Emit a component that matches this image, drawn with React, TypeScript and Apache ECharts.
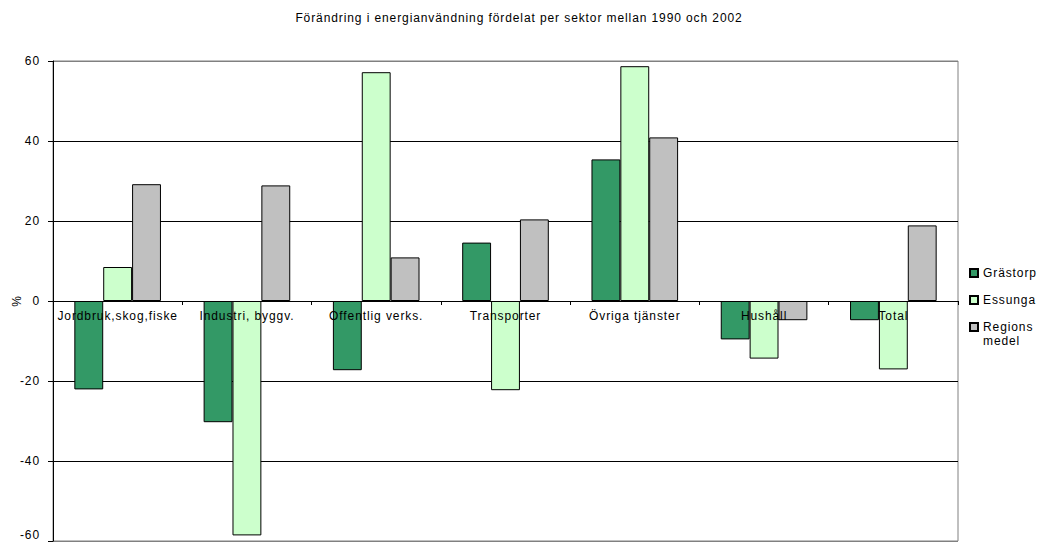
import React, { useEffect, useRef } from "react";
import * as echarts from "echarts";

const categories = [
  "Jordbruk,skog,fiske",
  "Industri, byggv.",
  "Offentlig verks.",
  "Transporter",
  "Övriga tjänster",
  "Hushåll",
  "Total",
];
const grastorp = [-22.1, -30.3, -17.3, 14.6, 35.4, -9.6, -4.8];
const essunga = [8.5, -58.6, 57.2, -22.3, 58.7, -14.4, -17.1];
const regionsMedel = [29.2, 28.9, 10.9, 20.4, 40.9, -4.8, 18.9];
const yTicks = { min: -60, max: 60, interval: 20 };

const FONT = "'Liberation Sans', Arial, sans-serif";

export default function App() {
  const ref = useRef<HTMLDivElement>(null);
  useEffect(() => {
    if (!ref.current) return;
    const chart = echarts.init(ref.current, null, { renderer: "svg" });
    const border = { borderColor: "#000", borderWidth: 1 };
    const legendBase = {
      orient: "vertical",
      left: 969,
      padding: 0,
      itemWidth: 8,
      itemHeight: 8,
      itemGap: 13,
      icon: "rect",
      selectedMode: false,
      textStyle: { fontFamily: FONT, fontSize: 12, color: "#000", lineHeight: 14 },
    };
    const gridTop = 61;
    const gridBottom = 3;
    const gridHeight = 544 - gridTop - gridBottom;
    const zeroOffset = -gridHeight * (0 - yTicks.min) / (yTicks.max - yTicks.min);
    chart.setOption({
      animation: false,
      backgroundColor: "#fff",
      textStyle: { fontFamily: FONT },
      title: {
        text: "Förändring i energianvändning fördelat per sektor mellan 1990 och 2002",
        left: "center",
        top: 7,
        textStyle: { fontFamily: FONT, fontSize: 12, fontWeight: "normal", color: "#000" },
      },
      legend: [
        { ...legendBase, top: 266, data: ["Grästorp"] },
        { ...legendBase, top: 293, data: ["Essunga"] },
        {
          ...legendBase,
          top: 306,
          data: ["Regions medel"],
          formatter: (n: string) => "\n" + n.replace(" ", "\n"),
        },
      ],
      grid: {
        left: 53,
        right: 80,
        top: gridTop,
        bottom: gridBottom,
        outerBoundsMode: "none",
        containLabel: false,
        show: true,
        borderColor: "#808080",
        borderWidth: 1,
        backgroundColor: "#fff",
      },
      xAxis: {
        type: "category",
        data: categories,
        z: 10,
        position: "bottom",
        offset: zeroOffset,
        axisLine: { onZero: false, lineStyle: { color: "#000", width: 1 } },
        axisTick: { show: true, interval: 0, length: 4, lineStyle: { color: "#000" } },
        axisLabel: { interval: 0, color: "#000", fontSize: 12, margin: 9, fontFamily: FONT },
        splitLine: { show: false },
      },
      yAxis: {
        type: "value",
        min: yTicks.min,
        max: yTicks.max,
        interval: yTicks.interval,
        name: "%",
        nameLocation: "middle",
        nameRotate: 90,
        nameGap: 30,
        nameMoveOverlap: false,
        nameTextStyle: { color: "#000", fontSize: 12, fontFamily: FONT },
        axisLine: { show: true, lineStyle: { color: "#000", width: 1 } },
        axisTick: { show: true, length: 5, lineStyle: { color: "#000" } },
        axisLabel: {
          color: "#000",
          fontSize: 12,
          margin: 13,
          fontFamily: FONT,
          verticalAlignMinLabel: "bottom",
        },
        splitLine: {
          show: true,
          lineStyle: {
            color: ["#808080", "#000", "#000", "#000", "#000", "#000", "#808080"],
            width: 1,
          },
        },
      },
      series: [
        {
          name: "Grästorp",
          type: "bar",
          data: grastorp,
          barGap: "0%",
          barCategoryGap: "33%",
          itemStyle: { color: "#339966", ...border },
        },
        {
          name: "Essunga",
          type: "bar",
          data: essunga,
          itemStyle: { color: "#CCFFCC", ...border },
        },
        {
          name: "Regions medel",
          type: "bar",
          data: regionsMedel,
          itemStyle: { color: "#C0C0C0", ...border },
        },
      ],
    });
    return () => chart.dispose();
  }, []);
  return (
    <div
      ref={ref}
      style={{
        position: "absolute",
        left: 0,
        top: 0,
        width: 1038,
        height: 544,
        letterSpacing: "0.9px",
      }}
    />
  );
}
